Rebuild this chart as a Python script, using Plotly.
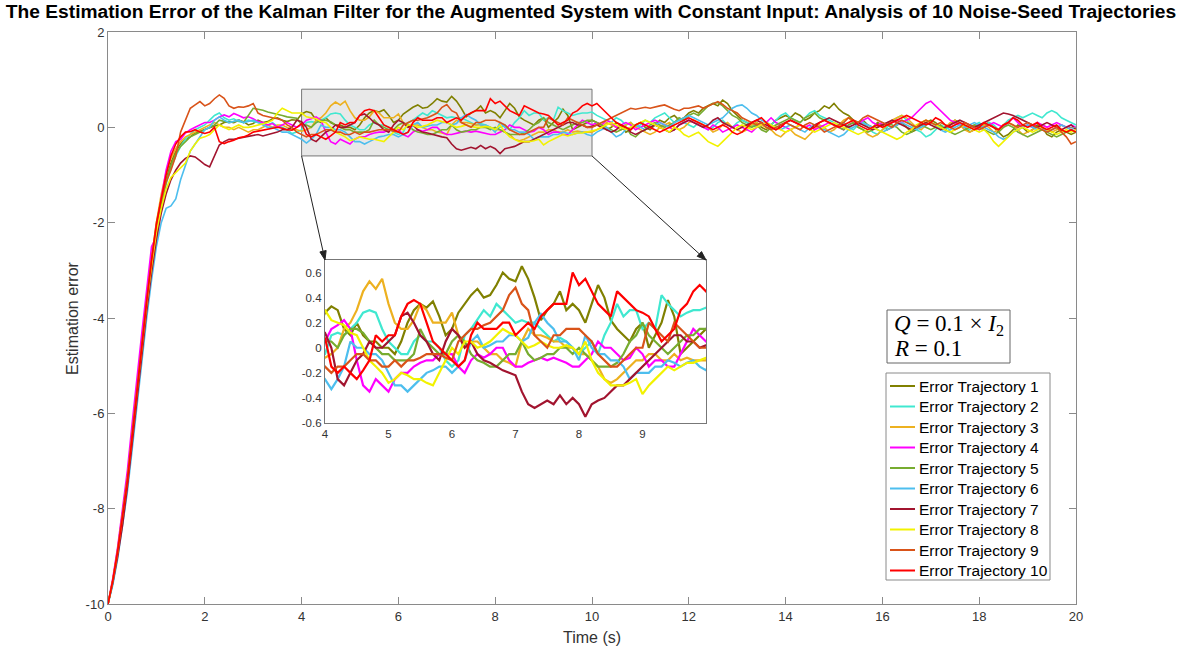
import numpy as np
import plotly.graph_objects as go

# Sample times (s): 0.0 ... 20.0 every 0.1 s
time_s = np.round(np.arange(0, 201) * 0.1, 1)

# Estimation error for each noise seed, one row per second of simulation
err_traj_1 = [
    -10, -9.5, -8.9, -8.25, -7.45, -6.5, -5.5, -4.6, -3.7, -2.9, -2.2,
    -1.6, -1.1, -0.75, -0.5, -0.35, -0.25, -0.2, -0.12, -0.08, -0.05,
    0.0, 0.03, 0.05, 0.1, 0.12, 0.1, 0.15, 0.12, 0.05, 0.08,
    0.15, 0.1, 0.12, 0.18, 0.2, 0.15, 0.12, 0.16, 0.15, 0.28,
    0.33, 0.3, 0.15, 0.1, 0.2, 0.1, 0.05, 0.05, 0.0, 0.0,
    -0.05, 0.05, 0.2, 0.3, 0.35, 0.32, 0.37, 0.25, 0.1, 0.15,
    0.28, 0.35, 0.42, 0.47, 0.4, 0.42, 0.5, 0.6, 0.55, 0.53,
    0.65, 0.55, 0.4, 0.22, 0.3, 0.35, 0.45, 0.3, 0.35, 0.3,
    0.2, 0.35, 0.5, 0.4, 0.22, 0.15, 0.1, 0.05, 0.15, 0.2,
    0.0, 0.1, 0.2, 0.38, 0.25, -0.05, 0.0, 0.05, 0.1, 0.15,
    0.1, 0.05, -0.05, 0.0, 0.1, 0.05, -0.1, -0.05, 0.05, 0.1,
    0.0, -0.05, 0.05, 0.15, 0.1, 0.2, 0.25, 0.15, 0.2, 0.3,
    0.35, 0.3, 0.4, 0.45, 0.5, 0.45, 0.57, 0.5, 0.35, 0.25,
    0.15, 0.1, 0.05, 0.1, 0.0, -0.05, 0.05, 0.15, 0.2, 0.25,
    0.2, 0.3, 0.25, 0.15, 0.2, 0.3, 0.35, 0.45, 0.4, 0.5,
    0.38, 0.3, 0.25, 0.15, 0.1, 0.15, 0.05, 0.0, 0.1, 0.05,
    -0.05, 0.0, 0.05, 0.1, 0.0, -0.1, -0.05, 0.05, 0.1, 0.15,
    0.1, 0.0, -0.05, 0.05, 0.15, 0.1, 0.0, -0.1, -0.05, 0.0,
    0.05, 0.1, 0.0, -0.1, -0.2, -0.15, -0.05, 0.05, 0.0, -0.1,
    -0.05, 0.05, 0.0, -0.15, -0.2, -0.1, -0.05, -0.1, -0.15, -0.1,
]
err_traj_2 = [
    -10, -9.55, -8.95, -8.3, -7.5, -6.55, -5.6, -4.7, -3.8, -3.0, -2.3,
    -1.7, -1.2, -0.85, -0.6, -0.4, -0.25, -0.15, -0.05, 0.0, 0.05,
    0.15, 0.25, 0.3, 0.2, 0.15, 0.18, 0.12, 0.1, 0.15, 0.12,
    0.1, 0.08, 0.05, 0.1, 0.02, 0.0, -0.05, -0.13, -0.1, -0.05,
    0.1, 0.12, 0.1, 0.15, 0.2, 0.28, 0.3, 0.28, 0.15, 0.05,
    0.0, -0.05, -0.05, 0.05, 0.1, 0.05, 0.05, 0.0, -0.1, -0.15,
    -0.1, 0.1, 0.15, 0.22, 0.3, 0.25, 0.35, 0.3, 0.25, 0.2,
    0.22, 0.2, 0.2, 0.15, 0.1, 0.05, 0.08, 0.05, 0.0, -0.05,
    0.0, 0.05, -0.05, 0.1, 0.2, 0.35, 0.25, 0.3, 0.3, 0.15,
    0.2, 0.15, 0.42, 0.35, 0.3, 0.25, 0.28, 0.3, 0.3, 0.32,
    0.25, 0.2, 0.15, 0.1, 0.2, 0.15, 0.05, 0.1, 0.0, 0.05,
    0.15, 0.1, 0.2, 0.25, 0.3, 0.2, 0.1, 0.15, 0.1, 0.05,
    0.0, 0.1, 0.05, -0.05, 0.0, 0.1, 0.15, 0.05, 0.0, 0.1,
    0.15, 0.1, 0.05, 0.0, 0.05, 0.1, 0.05, 0.15, 0.25, 0.3,
    0.2, 0.15, 0.1, 0.2, 0.3, 0.35, 0.25, 0.2, 0.15, 0.1,
    0.05, 0.1, 0.0, -0.05, 0.05, 0.1, 0.0, -0.1, -0.15, -0.05,
    0.0, 0.1, 0.2, 0.25, 0.15, 0.05, -0.05, -0.1, -0.2, -0.15,
    -0.05, 0.05, 0.0, -0.05, 0.05, 0.1, 0.0, -0.05, 0.05, 0.1,
    0.0, 0.1, 0.05, -0.05, 0.05, 0.15, 0.2, 0.25, 0.2, 0.25,
    0.3, 0.25, 0.2, 0.3, 0.35, 0.3, 0.2, 0.15, 0.1, 0.05,
]
err_traj_3 = [
    -10, -9.5, -8.85, -8.15, -7.35, -6.4, -5.4, -4.5, -3.55, -2.75, -2.0,
    -1.4, -0.95, -0.65, -0.45, -0.3, -0.2, -0.15, -0.1, -0.05, 0.0,
    0.05, 0.1, 0.05, 0.0, 0.0, -0.05, 0.0, -0.05, -0.1, -0.05,
    -0.05, 0.0, 0.05, 0.0, 0.05, 0.05, 0.0, -0.05, -0.05, -0.08,
    -0.05, 0.0, 0.15, 0.2, 0.3, 0.45, 0.53, 0.47, 0.55, 0.35,
    0.2, 0.15, 0.15, 0.22, 0.35, 0.3, 0.2, 0.2, 0.2, 0.28,
    0.1, 0.0, 0.05, 0.05, 0.0, -0.05, -0.05, -0.1, -0.12, -0.15,
    0.05, 0.15, 0.1, 0.1, 0.08, 0.05, 0.05, 0.0, 0.0, -0.05,
    -0.05, -0.1, -0.15, -0.25, -0.28, -0.25, -0.2, -0.15, -0.1, -0.1,
    -0.05, -0.05, -0.1, -0.1, -0.05, -0.1, -0.08, -0.1, -0.1, -0.1,
    -0.05, 0.0, 0.1, 0.05, 0.0, -0.05, 0.05, 0.1, 0.0, -0.05,
    -0.1, -0.15, -0.1, 0.0, 0.05, 0.1, 0.0, -0.05, 0.0, 0.1,
    0.15, 0.1, 0.05, 0.0, -0.1, -0.05, 0.05, 0.1, 0.0, -0.05,
    -0.1, -0.05, 0.05, 0.1, 0.05, 0.0, -0.05, -0.15, -0.2, -0.1,
    -0.05, -0.15, -0.2, -0.25, -0.15, -0.05, 0.05, 0.0, -0.1, -0.05,
    0.05, 0.15, 0.2, 0.1, 0.0, -0.05, -0.15, -0.2, -0.15, -0.05,
    0.05, 0.15, 0.2, 0.25, 0.2, 0.1, 0.0, -0.05, 0.05, 0.1,
    0.05, -0.05, 0.0, 0.1, 0.15, 0.05, -0.05, -0.1, -0.05, 0.0,
    0.05, 0.0, -0.1, -0.05, 0.05, 0.1, 0.05, -0.05, -0.15, -0.1,
    -0.05, 0.0, 0.05, 0.0, -0.1, -0.05, 0.05, 0.0, -0.05, -0.1,
]
err_traj_4 = [
    -10, -9.45, -8.8, -8.05, -7.2, -6.2, -5.2, -4.3, -3.4, -2.5, -2.3,
    -1.5, -0.9, -0.5, -0.3, -0.25, -0.12, -0.05, 0.0, 0.05, 0.1,
    0.1, 0.15, 0.22, 0.26, 0.22, 0.29, 0.25, 0.2, 0.22, 0.18,
    0.12, 0.1, 0.05, 0.08, 0.0, 0.05, 0.1, 0.05, 0.0, 0.05,
    0.15, 0.18, 0.22, 0.15, -0.1, -0.3, -0.35, -0.25, -0.3, -0.35,
    -0.25, -0.2, -0.2, -0.15, -0.12, -0.1, -0.1, -0.05, -0.05, -0.05,
    -0.15, -0.2, -0.1, -0.05, -0.08, -0.05, 0.0, 0.0, -0.1, -0.15,
    -0.15, -0.12, -0.1, -0.08, -0.1, -0.08, -0.1, -0.12, -0.15, -0.15,
    -0.1, -0.05, 0.05, 0.0, 0.0, -0.05, -0.1, -0.08, 0.0, -0.05,
    -0.15, -0.1, -0.1, -0.15, -0.15, -0.05, 0.05, 0.15, 0.1, 0.05,
    0.1, 0.05, 0.15, 0.1, 0.0, 0.05, 0.1, 0.05, -0.05, 0.0,
    0.05, 0.1, 0.15, 0.1, 0.05, 0.0, -0.05, 0.05, 0.1, 0.15,
    0.1, 0.05, 0.0, -0.05, 0.05, 0.0, -0.1, -0.05, 0.0, 0.05,
    0.0, -0.05, -0.1, 0.0, 0.05, 0.1, 0.2, 0.1, 0.05, 0.0,
    -0.05, 0.0, 0.05, 0.0, 0.05, -0.05, 0.0, 0.05, 0.1, 0.05,
    0.0, -0.05, 0.05, 0.1, 0.05, 0.15, 0.2, 0.1, 0.05, 0.1,
    0.05, 0.1, 0.15, 0.1, 0.15, 0.2, 0.3, 0.4, 0.5, 0.55,
    0.45, 0.35, 0.25, 0.15, 0.1, 0.05, 0.0, 0.05, 0.0, -0.05,
    0.0, 0.05, 0.1, 0.05, 0.0, 0.1, 0.2, 0.1, 0.0, 0.05,
    0.0, 0.1, 0.05, 0.0, 0.05, 0.1, 0.05, 0.0, 0.05, 0.0,
]
err_traj_5 = [
    -10, -9.55, -8.95, -8.3, -7.5, -6.55, -5.6, -4.7, -3.8, -3.0, -2.25,
    -1.65, -1.15, -0.8, -0.55, -0.4, -0.3, -0.2, -0.15, -0.1, -0.05,
    0.0, 0.05, 0.15, 0.12, 0.1, 0.12, 0.15, 0.1, 0.25, 0.4,
    0.38, 0.36, 0.32, 0.3, 0.28, 0.25, 0.22, 0.2, 0.19, 0.05,
    0.05, 0.0, 0.1, 0.15, 0.15, 0.12, 0.05, 0.0, -0.05, -0.05,
    -0.1, -0.1, -0.1, -0.05, 0.15, 0.05, 0.0, -0.05, -0.05, 0.05,
    0.1, 0.05, -0.05, -0.1, -0.12, -0.15, -0.15, -0.1, -0.05, -0.05,
    0.05, -0.05, -0.1, -0.08, -0.05, -0.05, 0.0, 0.0, -0.05, 0.0,
    -0.05, -0.1, -0.15, -0.15, -0.15, -0.12, -0.05, 0.05, 0.1, 0.2,
    0.1, 0.05, 0.0, -0.05, 0.0, 0.05, 0.1, 0.1, 0.15, 0.15,
    0.1, 0.05, 0.0, -0.05, -0.1, -0.05, 0.0, -0.15, -0.2, -0.1,
    -0.05, 0.05, 0.1, 0.05, 0.0, 0.05, 0.1, 0.2, 0.15, 0.25,
    0.3, 0.25, 0.35, 0.45, 0.5, 0.52, 0.45, 0.35, 0.25, 0.2,
    0.1, 0.05, 0.0, 0.05, -0.05, -0.1, 0.0, 0.05, 0.1, 0.15,
    0.2, 0.15, 0.1, 0.2, 0.25, 0.3, 0.2, 0.15, 0.1, 0.05,
    0.0, -0.05, 0.05, 0.1, 0.0, -0.05, -0.1, -0.05, 0.0, 0.05,
    0.1, 0.05, 0.0, -0.1, -0.15, -0.1, 0.0, 0.05, 0.0, -0.05,
    0.0, 0.05, -0.05, -0.1, -0.15, -0.1, -0.05, 0.0, 0.05, 0.0,
    -0.05, -0.1, -0.15, -0.1, 0.0, 0.05, 0.0, -0.1, -0.15, -0.2,
    -0.15, -0.1, -0.05, -0.1, -0.15, -0.2, -0.15, -0.1, -0.05, -0.1,
]
err_traj_6 = [
    -10, -9.6, -9.05, -8.4, -7.65, -6.75, -5.8, -4.9, -4.0, -3.2, -2.5,
    -2.0, -1.7, -1.65, -1.5, -1.1, -0.8, -0.5, -0.35, -0.2, -0.05,
    0.0, 0.15, 0.22, 0.15, 0.1, 0.12, 0.15, 0.1, 0.12, 0.15,
    0.1, 0.05, 0.0, 0.0, -0.05, -0.1, -0.1, -0.15, -0.2, -0.25,
    -0.33, -0.25, -0.15, 0.05, 0.0, 0.0, -0.05, -0.05, -0.1, -0.2,
    -0.3, -0.3, -0.35, -0.3, -0.25, -0.2, -0.18, -0.15, -0.15, -0.2,
    -0.15, -0.1, 0.05, 0.1, 0.0, 0.02, 0.05, 0.05, 0.1, 0.1,
    0.05, 0.08, 0.2, 0.27, 0.2, 0.15, 0.05, 0.05, 0.0, -0.1,
    0.1, 0.0, -0.05, -0.05, -0.1, -0.1, -0.15, -0.25, -0.2, -0.2,
    -0.2, -0.15, -0.15, -0.1, -0.12, -0.15, -0.12, -0.1, -0.15, -0.18,
    -0.1, -0.05, 0.0, -0.1, -0.2, -0.15, -0.05, 0.0, 0.05, 0.0,
    -0.05, 0.0, 0.05, 0.1, 0.05, 0.0, 0.1, 0.15, 0.2, 0.25,
    0.2, 0.15, 0.1, 0.05, 0.1, 0.15, 0.2, 0.3, 0.4, 0.45,
    0.47, 0.4, 0.3, 0.25, 0.15, 0.1, 0.05, 0.0, -0.05, 0.0,
    0.05, 0.0, -0.05, -0.1, 0.0, 0.05, 0.0, -0.05, -0.1, -0.15,
    -0.2, -0.15, -0.05, 0.0, 0.05, 0.1, 0.05, 0.0, -0.05, -0.1,
    -0.05, 0.0, 0.05, 0.1, 0.05, 0.0, -0.05, 0.0, 0.05, 0.1,
    0.05, -0.05, -0.1, -0.05, 0.0, 0.05, 0.0, 0.05, 0.1, 0.05,
    0.0, -0.05, -0.1, -0.2, -0.25, -0.2, -0.1, -0.05, 0.0, 0.05,
    0.0, -0.05, 0.0, -0.1, -0.05, 0.0, 0.05, 0.0, -0.05, 0.0,
]
err_traj_7 = [
    -10, -9.55, -9.0, -8.35, -7.55, -6.6, -5.65, -4.75, -3.85, -3.05, -2.35,
    -1.8, -1.4, -1.1, -0.9, -0.75, -0.65, -0.6, -0.62, -0.7, -0.78,
    -0.83, -0.6, -0.37, -0.3, -0.25, -0.25, -0.23, -0.2, -0.18, -0.16,
    -0.15, -0.18, -0.15, -0.13, -0.1, -0.05, -0.05, 0.0, 0.15, 0.12,
    0.0, -0.25, -0.3, -0.2, -0.1, -0.05, 0.05, 0.0, 0.0, 0.05,
    0.1, 0.25, 0.28, 0.2, 0.1, 0.05, -0.05, -0.1, 0.05, 0.15,
    0.1, 0.0, 0.05, -0.05, -0.1, -0.12, -0.15, -0.18, -0.2, -0.22,
    -0.35, -0.45, -0.48, -0.45, -0.42, -0.45, -0.38, -0.45, -0.4, -0.45,
    -0.55, -0.45, -0.42, -0.4, -0.35, -0.3, -0.3, -0.25, -0.2, -0.15,
    -0.1, -0.05, 0.0, 0.05, 0.1, 0.1, 0.05, 0.05, 0.0, 0.02,
    0.05, 0.0, -0.05, -0.1, -0.05, 0.05, 0.0, -0.1, -0.15, -0.1,
    -0.05, 0.0, 0.05, 0.0, -0.05, -0.1, -0.05, 0.05, 0.1, 0.15,
    0.1, 0.05, 0.0, 0.05, 0.15, 0.2, 0.1, 0.05, 0.0, -0.05,
    0.0, 0.05, 0.1, 0.15, 0.1, 0.05, 0.0, -0.05, 0.05, 0.1,
    0.15, 0.1, 0.05, 0.0, -0.05, 0.05, 0.1, 0.15, 0.2, 0.15,
    0.1, 0.05, 0.0, 0.05, 0.1, 0.05, 0.0, -0.05, 0.0, 0.05,
    0.1, 0.15, 0.1, 0.05, 0.0, -0.05, 0.0, 0.05, 0.1, 0.05,
    0.0, -0.05, 0.0, 0.05, 0.1, 0.15, 0.1, 0.05, 0.0, 0.05,
    0.1, 0.15, 0.2, 0.25, 0.3, 0.28, 0.25, 0.2, 0.15, 0.1,
    0.05, 0.0, 0.05, 0.1, 0.05, 0.0, -0.05, 0.0, 0.05, -0.05,
]
err_traj_8 = [
    -10, -9.5, -8.9, -8.2, -7.4, -6.45, -5.5, -4.6, -3.7, -2.9, -2.2,
    -1.7, -1.3, -1.05, -0.95, -0.85, -0.75, -0.5, -0.35, -0.23, -0.2,
    -0.15, -0.05, 0.05, 0.0, -0.05, 0.0, 0.05, 0.0, 0.0, 0.02,
    0.05, 0.08, 0.1, 0.15, 0.3, 0.4, 0.35, 0.3, 0.3, 0.3,
    0.22, 0.2, 0.18, 0.12, 0.1, 0.0, -0.1, -0.15, -0.2, -0.28,
    -0.25, -0.2, -0.22, -0.25, -0.25, -0.28, -0.3, -0.2, -0.1, 0.0,
    -0.05, 0.05, 0.05, 0.0, 0.02, 0.05, 0.1, 0.15, 0.12, 0.1,
    0.05, 0.0, 0.02, 0.05, 0.02, 0.0, 0.0, 0.02, 0.0, -0.05,
    0.05, -0.1, -0.2, -0.25, -0.3, -0.3, -0.3, -0.28, -0.25, -0.37,
    -0.3, -0.25, -0.2, -0.15, -0.18, -0.15, -0.12, -0.12, -0.1, -0.08,
    -0.05, 0.0, 0.05, 0.1, 0.05, 0.0, -0.05, 0.0, 0.05, 0.1,
    0.15, 0.1, 0.05, 0.0, -0.05, -0.1, 0.0, -0.05, -0.15, -0.2,
    -0.15, -0.1, -0.2, -0.3, -0.35, -0.4, -0.3, -0.2, -0.1, 0.0,
    0.05, 0.0, -0.05, 0.0, 0.05, 0.1, 0.05, 0.0, -0.05, -0.1,
    -0.05, 0.0, 0.05, 0.0, -0.05, -0.1, -0.05, 0.0, 0.05, 0.1,
    0.05, 0.0, -0.05, -0.1, -0.15, -0.1, -0.05, 0.0, -0.05, -0.1,
    -0.15, -0.2, -0.25, -0.2, -0.1, -0.05, 0.05, 0.1, 0.15, 0.1,
    0.05, 0.0, -0.05, -0.1, -0.05, 0.0, 0.05, 0.0, -0.05, -0.1,
    -0.05, -0.15, -0.3, -0.4, -0.3, -0.2, -0.1, -0.05, 0.0, -0.05,
    -0.1, -0.05, 0.0, -0.05, -0.1, -0.15, -0.1, -0.05, -0.1, -0.05,
]
err_traj_9 = [
    -10, -9.5, -8.85, -8.15, -7.35, -6.4, -5.45, -4.5, -3.6, -2.75, -2.0,
    -1.5, -1.15, -0.9, -0.6, -0.1, 0.15, 0.4, 0.47, 0.54, 0.45,
    0.5, 0.6, 0.68, 0.61, 0.45, 0.4, 0.43, 0.42, 0.45, 0.5,
    0.3, 0.25, 0.22, 0.2, 0.18, 0.15, 0.05, 0.0, -0.1, -0.15,
    -0.2, -0.15, -0.15, -0.1, -0.05, -0.05, -0.1, -0.1, -0.15, -0.15,
    -0.1, -0.15, -0.1, -0.1, -0.08, -0.05, -0.05, -0.05, -0.08, -0.1,
    0.05, 0.1, 0.15, 0.15, 0.18, 0.2, 0.25, 0.3, 0.42, 0.48,
    0.35, 0.3, 0.1, 0.05, 0.0, 0.1, 0.1, 0.15, 0.15, 0.15,
    0.1, 0.05, -0.05, -0.1, -0.15, -0.15, -0.1, -0.05, 0.0, 0.0,
    0.2, 0.15, 0.1, 0.05, 0.2, 0.15, 0.1, 0.05, 0.0, 0.0,
    0.05, 0.1, 0.15, 0.2, 0.25, 0.3, 0.35, 0.4, 0.38, 0.4,
    0.42, 0.4, 0.43, 0.45, 0.47, 0.42, 0.38, 0.35, 0.4, 0.4,
    0.42, 0.45, 0.4, 0.45, 0.5, 0.54, 0.48, 0.4, 0.35, 0.3,
    0.2, 0.15, 0.1, 0.05, 0.1, 0.0, -0.05, 0.0, 0.05, 0.1,
    0.05, 0.0, -0.05, 0.05, 0.1, 0.05, 0.0, -0.1, -0.05, 0.0,
    0.05, 0.1, 0.2, 0.15, 0.1, 0.2, 0.25, 0.2, 0.15, 0.1,
    0.05, 0.0, 0.1, 0.15, 0.1, 0.05, 0.0, 0.1, 0.15, 0.1,
    0.05, 0.1, 0.05, 0.0, -0.05, 0.0, 0.1, 0.05, 0.0, -0.05,
    0.0, 0.05, 0.0, -0.05, 0.05, 0.1, 0.05, 0.0, 0.05, 0.1,
    0.05, 0.0, -0.05, -0.1, -0.05, 0.0, -0.1, -0.2, -0.35, -0.3,
]
err_traj_10 = [
    -10, -9.5, -8.9, -8.2, -7.45, -6.5, -5.5, -4.55, -3.65, -2.8, -2.05,
    -1.5, -1.0, -0.6, -0.35, -0.2, -0.1, -0.09, -0.05, -0.1, -0.13,
    -0.1, 0.0, -0.3, -0.34, -0.3, -0.27, -0.22, -0.2, -0.16, -0.1,
    -0.08, -0.06, -0.05, -0.02, 0.0, -0.02, -0.05, -0.06, 0.0, 0.08,
    -0.15, -0.2, -0.15, -0.2, -0.25, -0.18, -0.1, 0.1, 0.05, 0.1,
    0.1, 0.25, 0.35, 0.38, 0.35, 0.2, 0.05, 0.0, -0.05, -0.1,
    -0.15, -0.1, 0.1, 0.2, 0.15, 0.15, 0.15, 0.2, 0.2, 0.1,
    0.15, 0.2, 0.15, 0.25, 0.3, 0.35, 0.35, 0.35, 0.6, 0.5,
    0.55, 0.45, 0.35, 0.3, 0.25, 0.45, 0.4, 0.35, 0.3, 0.28,
    0.25, 0.15, 0.05, 0.1, 0.15, 0.3, 0.35, 0.45, 0.5, 0.45,
    0.5, 0.4, 0.3, 0.2, 0.1, 0.05, 0.0, -0.05, 0.05, 0.1,
    0.05, 0.0, -0.05, -0.1, -0.05, 0.0, 0.05, 0.1, 0.15, 0.2,
    0.15, 0.1, 0.05, 0.0, -0.05, 0.0, 0.05, 0.0, -0.1, -0.15,
    -0.1, 0.0, 0.1, 0.15, 0.2, 0.1, 0.0, -0.05, 0.0, 0.1,
    0.15, 0.1, 0.05, 0.0, -0.05, 0.0, 0.1, 0.15, 0.1, 0.05,
    0.0, 0.05, 0.1, 0.15, 0.05, 0.0, -0.05, 0.0, 0.05, 0.0,
    0.05, 0.1, 0.15, 0.2, 0.25, 0.2, 0.15, 0.1, 0.05, 0.1,
    0.2, 0.15, 0.05, 0.0, 0.05, 0.1, 0.05, 0.0, -0.05, 0.0,
    0.1, 0.05, 0.0, -0.05, 0.05, 0.1, 0.2, 0.15, 0.05, 0.0,
    0.05, 0.1, 0.0, -0.05, 0.0, 0.05, -0.05, -0.1, -0.05, -0.1,
]

trajectories = [err_traj_1, err_traj_2, err_traj_3, err_traj_4, err_traj_5,
                err_traj_6, err_traj_7, err_traj_8, err_traj_9, err_traj_10]
for k, tr in enumerate(trajectories, 1):
    assert len(tr) == len(time_s), (k, len(tr))

series_names = [f"Error Trajectory {k}" for k in range(1, 11)]
series_colors = ["#808000", "#40E8D0", "#EDB120", "#FF00FF", "#77AC30",
                 "#4DBEEE", "#A2142F", "#F2F200", "#D95319", "#FF0000"]

# Axis ticks
x_ticks = [0, 2, 4, 6, 8, 10, 12, 14, 16, 18, 20]
y_ticks = [-10, -8, -6, -4, -2, 0, 2]
inset_x_ticks = [4, 5, 6, 7, 8, 9]
inset_y_ticks = [-0.6, -0.4, -0.2, 0, 0.2, 0.4, 0.6]
inset_y_labels = ["-0.6", "-0.4", "-0.2", "0", "0.2", "0.4", "0.6"]

# Highlighted window (time range and error range) shown enlarged in the inset
zoom_t = (4, 10)
zoom_e = (-0.6, 0.8)
main_x_range = (0, 20)
main_y_range = (-10, 2)
inset_y_range = (-0.6, 0.7)

W, H = 1182, 652
FONT = "Liberation Sans, Arial, Helvetica, sans-serif"
SERIF = "Liberation Serif, DejaVu Serif, serif"
AX_COLOR = "#8a8a8a"
TXT_COLOR = "#333333"

# Plot-area placement in pixels (left, right, top, bottom)
MAIN_BOX = (108, 1076, 32, 604)
INSET_BOX = (325, 706, 260, 423)
LEGEND_BOX = (886, 1050, 373, 580)
NOTE_BOX = (887, 1010, 310, 363)
LEGEND_FIRST_ROW, LEGEND_ROW_STEP = 386, 20.5


def px_to_paper(px, py):
    return px / W, 1 - py / H


main_xd = [MAIN_BOX[0] / W, MAIN_BOX[1] / W]
main_yd = [1 - MAIN_BOX[3] / H, 1 - MAIN_BOX[2] / H]
inset_xd = [INSET_BOX[0] / W, INSET_BOX[1] / W]
inset_yd = [1 - INSET_BOX[3] / H, 1 - INSET_BOX[2] / H]


def main_data_to_px(t, e):
    """Pixel position of a data point on the main axes."""
    fx = (t - main_x_range[0]) / (main_x_range[1] - main_x_range[0])
    fy = (e - main_y_range[0]) / (main_y_range[1] - main_y_range[0])
    return (MAIN_BOX[0] + fx * (MAIN_BOX[1] - MAIN_BOX[0]),
            MAIN_BOX[3] - fy * (MAIN_BOX[3] - MAIN_BOX[2]))


fig = go.Figure()

for tr, name, col in zip(trajectories, series_names, series_colors):
    fig.add_trace(go.Scatter(x=time_s, y=tr, mode="lines", name=name,
                             line=dict(color=col, width=1.6),
                             xaxis="x", yaxis="y", showlegend=False))

for tr, name, col in zip(trajectories, series_names, series_colors):
    fig.add_trace(go.Scatter(x=time_s, y=tr, mode="lines", name=name,
                             line=dict(color=col, width=2.2),
                             xaxis="x2", yaxis="y2", showlegend=False))

main_axis = dict(showline=True, linecolor=AX_COLOR, linewidth=1, mirror="ticks",
                 ticks="inside", ticklen=7, tickcolor=AX_COLOR, showgrid=False,
                 zeroline=False, automargin=False,
                 tickfont=dict(family=FONT, size=13, color=TXT_COLOR))
inset_axis = dict(showline=True, mirror=True, linecolor="#777777", linewidth=1.2,
                  ticks="", showgrid=False, zeroline=False, automargin=False,
                  tickfont=dict(family=FONT, size=11.5, color=TXT_COLOR))

fig.update_layout(
    width=W, height=H,
    margin=dict(l=0, r=0, t=0, b=0),
    paper_bgcolor="white", plot_bgcolor="white",
    font=dict(family=FONT, color=TXT_COLOR),
    showlegend=False,
    title=dict(text="<b>The Estimation Error of the Kalman Filter for the Augmented System "
                    "with Constant Input: Analysis of 10 Noise-Seed Trajectories</b>",
               x=0.5, xanchor="center", xref="paper", y=1 - 11 / H, yanchor="middle",
               yref="container", font=dict(family=FONT, size=19.2, color="black")),
    xaxis=dict(domain=main_xd, range=list(main_x_range), tickvals=x_ticks,
               ticktext=[str(v) for v in x_ticks], **main_axis),
    yaxis=dict(domain=main_yd, range=list(main_y_range), tickvals=y_ticks,
               ticktext=[str(v) for v in y_ticks], **main_axis),
    xaxis2=dict(domain=inset_xd, range=list(zoom_t), anchor="y2", tickvals=inset_x_ticks,
                ticktext=[str(v) for v in inset_x_ticks], **inset_axis),
    yaxis2=dict(domain=inset_yd, range=list(inset_y_range), anchor="x2",
                tickvals=inset_y_ticks, ticktext=inset_y_labels, **inset_axis),
)

# Shaded window on the main axes
fig.add_shape(type="rect", xref="x", yref="y", x0=zoom_t[0], x1=zoom_t[1],
              y0=zoom_e[0], y1=zoom_e[1], fillcolor="#e8e8e8",
              line=dict(color="#777777", width=1), layer="below")

# Connector arrows from the window's lower corners to the inset's top corners
for tail_t, head_px in ((zoom_t[0], INSET_BOX[0]), (zoom_t[1], INSET_BOX[1])):
    tx, ty = main_data_to_px(tail_t, zoom_e[0])
    hx, hy = head_px, INSET_BOX[2]
    dx, dy = hx - tx, hy - ty
    n = (dx * dx + dy * dy) ** 0.5
    ux, uy = dx / n, dy / n
    head_len, head_half = 9.0, 3.2
    bx, by = hx - ux * head_len, hy - uy * head_len
    p0 = px_to_paper(tx, ty)
    p1 = px_to_paper(bx, by)
    fig.add_shape(type="line", xref="paper", yref="paper", x0=p0[0], y0=p0[1],
                  x1=p1[0], y1=p1[1], line=dict(color="#222222", width=1))
    tip = px_to_paper(hx, hy)
    left = px_to_paper(bx - uy * head_half, by + ux * head_half)
    right = px_to_paper(bx + uy * head_half, by - ux * head_half)
    fig.add_shape(type="path", xref="paper", yref="paper",
                  path=f"M {tip[0]} {tip[1]} L {left[0]} {left[1]} "
                       f"L {right[0]} {right[1]} Z",
                  fillcolor="#222222", line=dict(color="#222222", width=1))

# Noise covariance note: framed box with two lines of math-style text
nx0, ny0 = px_to_paper(NOTE_BOX[0], NOTE_BOX[3])
nx1, ny1 = px_to_paper(NOTE_BOX[1], NOTE_BOX[2])
fig.add_shape(type="rect", xref="paper", yref="paper", x0=nx0, x1=nx1, y0=ny0, y1=ny1,
              fillcolor="white", line=dict(color="#666666", width=1), layer="above")
for line_text, py in (("<i>Q</i> = 0.1 × <i>I</i><sub>2</sub>", 325),
                      ("<i>R</i> = 0.1", 348)):
    fig.add_annotation(x=892 / W, y=1 - py / H, xref="paper", yref="paper",
                       xanchor="left", yanchor="middle", showarrow=False,
                       text=line_text, font=dict(family=SERIF, size=23, color="black"))

# Legend: framed box with a line sample and a label per trajectory
lx0, ly0 = px_to_paper(LEGEND_BOX[0], LEGEND_BOX[3])
lx1, ly1 = px_to_paper(LEGEND_BOX[1], LEGEND_BOX[2])
fig.add_shape(type="rect", xref="paper", yref="paper", x0=lx0, x1=lx1, y0=ly0, y1=ly1,
              fillcolor="white", line=dict(color=AX_COLOR, width=1), layer="above")
for k, (name, col) in enumerate(zip(series_names, series_colors)):
    row_y = LEGEND_FIRST_ROW + LEGEND_ROW_STEP * k
    a = px_to_paper(LEGEND_BOX[0] + 4, row_y)
    b = px_to_paper(LEGEND_BOX[0] + 29, row_y)
    fig.add_shape(type="line", xref="paper", yref="paper", x0=a[0], y0=a[1],
                  x1=b[0], y1=b[1], line=dict(color=col, width=2), layer="above")
    fig.add_annotation(x=(LEGEND_BOX[0] + 31) / W, y=1 - row_y / H, xref="paper",
                       yref="paper", xanchor="left", yanchor="middle",
                       showarrow=False, text=name,
                       font=dict(family=FONT, size=15.5, color="black"))

# Axis labels
fig.add_annotation(x=(main_xd[0] + main_xd[1]) / 2, y=1 - 637 / H, xref="paper",
                   yref="paper", xanchor="center", yanchor="middle",
                   text="Time (s)", showarrow=False,
                   font=dict(family=FONT, size=16, color=TXT_COLOR))
fig.add_annotation(x=72 / W, y=(main_yd[0] + main_yd[1]) / 2, xref="paper",
                   yref="paper", xanchor="center", yanchor="middle",
                   text="Estimation error", textangle=-90,
                   showarrow=False, font=dict(family=FONT, size=16, color=TXT_COLOR))

fig.write_html("out.html")
